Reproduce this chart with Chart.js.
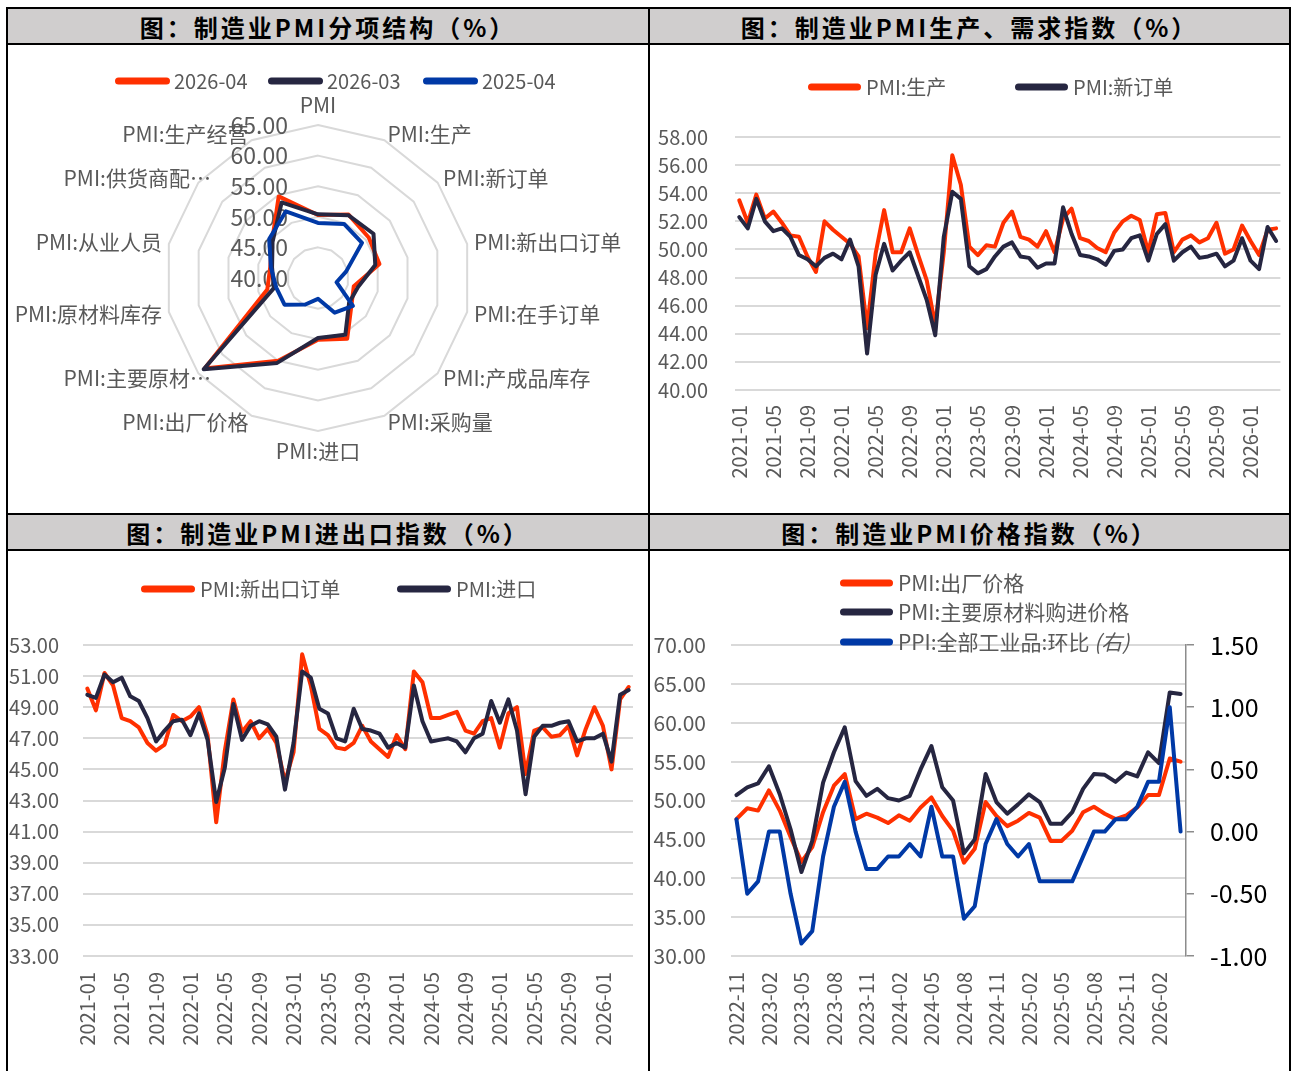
<!DOCTYPE html>
<html><head><meta charset="utf-8">
<script src="https://cdn.jsdelivr.net/npm/chart.js@4.4.1/dist/chart.umd.min.js"></script>
<style>
html,body{margin:0;padding:0;background:#fff;}
body{width:1293px;height:1071px;overflow:hidden;position:relative;font-family:'Noto Sans CJK SC','Noto Sans',sans-serif;}
.hdr{position:absolute;background:#D0CECE;display:flex;align-items:center;justify-content:center;font-weight:700;font-size:24px;letter-spacing:3px;color:#000;white-space:nowrap;}
.ln{position:absolute;background:#000;}
canvas{position:absolute;}
</style></head><body>
<div class="hdr" style="left:8px;top:9px;width:640px;height:34px;">图：制造业PMI分项结构（%）</div>
<div class="hdr" style="left:650px;top:9px;width:639px;height:34px;">图：制造业PMI生产、需求指数（%）</div>
<div class="hdr" style="left:8px;top:515px;width:640px;height:34px;">图：制造业PMI进出口指数（%）</div>
<div class="hdr" style="left:650px;top:515px;width:639px;height:34px;">图：制造业PMI价格指数（%）</div>
<canvas id="c1" width="642" height="468" style="left:7px;top:45px;width:642px;height:468px;"></canvas>
<canvas id="c2" width="640" height="468" style="left:650px;top:45px;width:640px;height:468px;"></canvas>
<canvas id="c3" width="649" height="520" style="left:0px;top:551px;width:649px;height:520px;"></canvas>
<canvas id="c4" width="640" height="520" style="left:650px;top:551px;width:640px;height:520px;"></canvas>
<div class="ln" style="left:6px;top:7px;width:1285px;height:2px;"></div>
<div class="ln" style="left:6px;top:43px;width:1285px;height:2px;"></div>
<div class="ln" style="left:6px;top:513px;width:1285px;height:2px;"></div>
<div class="ln" style="left:6px;top:549px;width:1285px;height:2px;"></div>
<div class="ln" style="left:6px;top:7px;width:2px;height:1064px;"></div>
<div class="ln" style="left:648px;top:7px;width:2px;height:1064px;"></div>
<div class="ln" style="left:1289px;top:7px;width:2px;height:1064px;"></div>
<script>
// ---------- DATA ----------
const radarLabels = ['PMI','PMI:生产','PMI:新订单','PMI:新出口订单','PMI:在手订单','PMI:产成品库存','PMI:采购量','PMI:进口','PMI:出厂价格','PMI:主要原材…','PMI:原材料库存','PMI:从业人员','PMI:供货商配…','PMI:生产经营'];
const radarSeriesNames = ['2026-04','2026-03','2025-04'];
const radar202604 = [50.3, 51.5, 50.6, 50.3, 46.0, 47.0, 51.0, 50.1, 55.0, 63.7, 48.5, 48.0, 49.6, 54.8];
const radar202603 = [50.4, 51.4, 51.6, 49.6, 46.7, 46.5, 50.3, 49.8, 55.4, 63.9, 47.4, 47.7, 49.5, 53.7];
const radar202504 = [49.0, 49.8, 49.2, 44.7, 43.1, 47.3, 46.3, 43.4, 44.8, 47.0, 47.0, 47.9, 50.2, 52.1];
const radarTicks = [40, 45, 50, 55, 60, 65];

const months64 = ['2021-01','2021-02','2021-03','2021-04','2021-05','2021-06','2021-07','2021-08','2021-09','2021-10','2021-11','2021-12',
'2022-01','2022-02','2022-03','2022-04','2022-05','2022-06','2022-07','2022-08','2022-09','2022-10','2022-11','2022-12',
'2023-01','2023-02','2023-03','2023-04','2023-05','2023-06','2023-07','2023-08','2023-09','2023-10','2023-11','2023-12',
'2024-01','2024-02','2024-03','2024-04','2024-05','2024-06','2024-07','2024-08','2024-09','2024-10','2024-11','2024-12',
'2025-01','2025-02','2025-03','2025-04','2025-05','2025-06','2025-07','2025-08','2025-09','2025-10','2025-11','2025-12',
'2026-01','2026-02','2026-03','2026-04'];
const production = [53.5,51.9,53.9,52.2,52.7,51.9,51.0,50.9,49.5,48.4,52.0,51.4,
50.9,50.4,49.5,44.4,49.7,52.8,49.8,49.8,51.5,49.6,47.8,44.6,
49.8,56.7,54.6,50.2,49.6,50.3,50.2,51.9,52.7,50.9,50.7,50.2,
51.3,49.8,52.2,52.9,50.8,50.6,50.1,49.8,51.2,52.0,52.4,52.1,
49.8,52.5,52.6,49.8,50.7,51.0,50.5,50.8,51.9,49.7,50.0,51.7,
50.6,49.6,51.4,51.5];
const newOrders = [52.3,51.5,53.6,52.0,51.3,51.5,50.9,49.6,49.3,48.8,49.4,49.7,
49.3,50.7,48.8,42.6,48.2,50.4,48.5,49.2,49.8,48.1,46.4,43.9,
50.9,54.1,53.6,48.8,48.3,48.6,49.5,50.2,50.5,49.5,49.4,48.7,
49.0,49.0,53.0,51.1,49.6,49.5,49.3,48.9,49.9,50.0,50.8,51.0,
49.2,51.1,51.8,49.2,49.8,50.2,49.4,49.5,49.7,48.8,49.2,50.8,
49.2,48.6,51.6,50.6];
const newExportOrders = [50.2,48.8,51.2,50.4,48.3,48.1,47.7,46.7,46.2,46.6,48.5,48.1,
48.4,49.0,47.2,41.6,46.2,49.5,47.4,48.1,47.0,47.6,46.7,44.2,
46.1,52.4,50.4,47.6,47.2,46.4,46.3,46.7,47.8,46.8,46.3,45.8,
47.2,46.3,51.3,50.6,48.3,48.3,48.5,48.7,47.5,47.3,48.1,48.3,
46.4,48.6,49.0,44.7,47.5,47.7,47.1,47.2,47.8,45.9,47.6,49.0,
47.8,45.0,49.5,50.3];
const imports = [49.8,49.6,51.1,50.6,50.9,49.7,49.4,48.3,46.8,47.5,48.1,48.2,
47.2,48.6,46.9,42.9,45.1,49.2,46.9,47.8,48.1,47.9,47.1,43.7,
46.7,51.3,50.9,48.9,48.6,47.0,46.8,48.9,47.6,47.5,47.3,46.4,
46.7,46.4,50.4,48.1,46.8,46.9,47.0,46.8,46.1,47.0,47.3,49.4,
48.0,49.5,47.5,43.4,47.1,47.8,47.8,48.0,48.1,46.8,47.0,47.0,
47.3,45.5,49.8,50.1];

const months42 = ['2022-11','2022-12','2023-01','2023-02','2023-03','2023-04','2023-05','2023-06','2023-07','2023-08','2023-09','2023-10','2023-11','2023-12',
'2024-01','2024-02','2024-03','2024-04','2024-05','2024-06','2024-07','2024-08','2024-09','2024-10','2024-11','2024-12',
'2025-01','2025-02','2025-03','2025-04','2025-05','2025-06','2025-07','2025-08','2025-09','2025-10','2025-11','2025-12',
'2026-01','2026-02','2026-03','2026-04'];
const outputPrice = [47.6,49.0,48.7,51.3,48.7,45.3,42.1,44.0,48.5,51.9,53.4,47.6,48.3,47.8,
47.1,48.1,47.4,49.1,50.4,48.0,46.1,42.0,43.8,49.8,48.0,46.7,
47.4,48.4,47.8,44.8,44.8,46.1,48.5,49.2,48.3,47.6,48.1,49.1,
50.7,50.7,55.4,55.0];
const inputPrice = [50.7,51.7,52.2,54.4,50.8,46.3,40.8,44.8,52.3,56.2,59.4,52.5,50.6,51.5,
50.3,50.0,50.6,54.0,57.0,51.7,50.0,43.2,45.0,53.4,49.8,48.3,
49.5,50.8,49.8,47.0,47.0,48.5,51.5,53.4,53.3,52.4,53.6,53.1,
56.2,54.8,63.9,63.7];
const ppiMoM = [0.1,-0.5,-0.4,0.0,0.0,-0.5,-0.9,-0.8,-0.2,0.2,0.4,0.0,-0.3,-0.3,
-0.2,-0.2,-0.1,-0.2,0.2,-0.2,-0.2,-0.7,-0.6,-0.1,0.1,-0.1,
-0.2,-0.1,-0.4,-0.4,-0.4,-0.4,-0.2,0.0,0.0,0.1,0.1,0.2,
0.4,0.4,1.0,0.0];

// ---------- STYLE ----------
const FONT = "'Noto Sans CJK SC','Noto Sans',sans-serif";
const RED = '#FF3000', DARK = '#262641', BLUE = '#0039A6', GRAYTXT = '#595959', GRID = '#D9D9D9';
Chart.defaults.font.family = FONT;
Chart.defaults.color = GRAYTXT;

function legendPlugin(pos, cfg) {
  return {
    id: 'customLegend',
    afterDraw(chart) {
      const ctx = chart.ctx;
      chart.data.datasets.forEach((ds, i) => {
        const p = pos[i]; if (!p) return;
        ctx.save();
        ctx.strokeStyle = ds.borderColor; ctx.lineWidth = cfg.lw; ctx.lineCap = 'round';
        ctx.beginPath(); ctx.moveTo(p[0] + cfg.lw / 2, p[1]); ctx.lineTo(p[0] + cfg.len - cfg.lw / 2, p[1]); ctx.stroke();
        ctx.fillStyle = GRAYTXT; ctx.font = cfg.size + 'px ' + FONT; ctx.textBaseline = 'middle'; ctx.textAlign = 'left';
        const tx = p[0] + cfg.len + cfg.gap;
        ctx.fillText(ds.label, tx, p[1]);
        if (ds.labelSuffix) {
          const w = ctx.measureText(ds.label).width;
          ctx.font = 'italic ' + cfg.size + 'px ' + FONT;
          ctx.fillText(ds.labelSuffix, tx + w, p[1]);
        }
        ctx.restore();
      });
    }
  };
}

function lineDS(label, data, color, order, axis) {
  return {label, data, borderColor: color, backgroundColor: color, borderWidth: 4, pointRadius: 0, tension: 0,
    borderJoinStyle: 'round', borderCapStyle: 'round', fill: false, order, yAxisID: axis || 'y'};
}

function xScale(every, pad) {
  return {
    offset: true,
    grid: {display: false, drawTicks: false},
    border: {display: false},
    ticks: {autoSkip: false, minRotation: 90, maxRotation: 90, padding: pad, color: GRAYTXT, font: {size: 20},
      callback: function (v, i) { return i % every === 0 ? this.getLabelForValue(v) : null; }},
    afterFit: s => { s.height = 100; }
  };
}
function yScale(min, max, step, pad, width, fontSize) {
  return {
    min, max,
    grid: {color: GRID, lineWidth: 2, drawTicks: false},
    border: {display: false},
    ticks: {autoSkip: false, stepSize: step, padding: pad, color: GRAYTXT, font: {size: fontSize || 21}, callback: v => v.toFixed(2)},
    afterFit: s => { s.width = width; }
  };
}
const common = {responsive: false, animation: false, events: [],
  plugins: {legend: {display: false}, tooltip: {enabled: false}}};

// ---------- Chart 1: radar ----------
const radarText = {
  id: 'radarText',
  beforeDatasetsDraw(chart) {
    const s = chart.scales.r, ctx = chart.ctx;
    ctx.save();
    ctx.fillStyle = GRAYTXT;
    ctx.font = '23px ' + FONT; ctx.textAlign = 'right'; ctx.textBaseline = 'middle';
    radarTicks.forEach(t => {
      const d = s.getDistanceFromCenterForValue(t);
      ctx.fillText(t.toFixed(2), s.xCenter - 30, s.yCenter - d);
    });
    ctx.font = '21px ' + FONT;
    radarLabels.forEach((lab, i) => {
      const ang = s.getIndexAngle(i);
      const sn = Math.sin(ang);
      if (Math.abs(sn) < 0.01) {
        const p = s.getPointPosition(i, s.drawingArea + 20);
        ctx.textAlign = 'center'; ctx.fillText(lab, p.x, p.y);
      } else {
        const p = s.getPointPosition(i, s.drawingArea + 7);
        const shift = lab.endsWith('…') ? 18 : 0;
        ctx.textAlign = sn > 0 ? 'left' : 'right'; ctx.fillText(lab, p.x + shift, p.y);
      }
    });
    ctx.restore();
  }
};
new Chart(document.getElementById('c1'), {
  type: 'radar',
  data: {labels: radarLabels, datasets: [
    {label: radarSeriesNames[0], data: radar202604, borderColor: RED, backgroundColor: RED, order: 2},
    {label: radarSeriesNames[1], data: radar202603, borderColor: DARK, backgroundColor: DARK, order: 1},
    {label: radarSeriesNames[2], data: radar202504, borderColor: BLUE, backgroundColor: BLUE, order: 0}
  ].map(d => Object.assign(d, {borderWidth: 4, pointRadius: 0, fill: false, tension: 0, borderJoinStyle: 'round'}))},
  options: Object.assign({}, common, {
    layout: {padding: {left: 158, right: 178, top: 80, bottom: 82}},
    scales: {r: {min: 40, max: 65,
      ticks: {display: false, stepSize: 5},
      pointLabels: {display: false},
      grid: {color: GRID, lineWidth: 2},
      angleLines: {display: false}}}
  }),
  plugins: [radarText, legendPlugin([[108, 36], [261, 36], [416, 36]], {lw: 7, len: 55, gap: 4, size: 20})]
});

// ---------- Chart 2 ----------
new Chart(document.getElementById('c2'), {
  type: 'line',
  data: {labels: months64, datasets: [
    lineDS('PMI:生产', production, RED, 1),
    lineDS('PMI:新订单', newOrders, DARK, 0)
  ]},
  options: Object.assign({}, common, {
    layout: {padding: {left: 0, right: 8, top: 92, bottom: 23}},
    scales: {x: xScale(4, 15), y: yScale(40, 58, 2, 27, 85, 20)}
  }),
  plugins: [legendPlugin([[158, 42], [365, 42]], {lw: 7, len: 53, gap: 5, size: 20})]
});

// ---------- Chart 3 ----------
new Chart(document.getElementById('c3'), {
  type: 'line',
  data: {labels: months64, datasets: [
    lineDS('PMI:新出口订单', newExportOrders, RED, 1),
    lineDS('PMI:进口', imports, DARK, 0)
  ]},
  options: Object.assign({}, common, {
    layout: {padding: {left: 0, right: 16, top: 94, bottom: 15}},
    scales: {x: xScale(4, 16), y: yScale(33, 53, 2, 24, 83, 20)}
  }),
  plugins: [legendPlugin([[141, 38], [397, 38]], {lw: 7, len: 54, gap: 5, size: 20})]
});

// ---------- Chart 4 ----------
const ppiDS = lineDS('PPI:全部工业品:环比', ppiMoM, BLUE, 0, 'y1');
ppiDS.labelSuffix = ' (右)';
new Chart(document.getElementById('c4'), {
  type: 'line',
  data: {labels: months42, datasets: [
    lineDS('PMI:出厂价格', outputPrice, RED, 2),
    lineDS('PMI:主要原材料购进价格', inputPrice, DARK, 1),
    ppiDS
  ]},
  options: Object.assign({}, common, {
    layout: {padding: {left: 0, right: 0, top: 94, bottom: 15}},
    scales: {
      x: xScale(3, 16),
      y: yScale(30, 70, 5, 25, 81),
      y1: {position: 'right', min: -1, max: 1.5,
        grid: {drawOnChartArea: false, drawTicks: true, tickLength: 8, color: '#8C8C8C', lineWidth: 1.5},
        border: {display: true, color: '#8C8C8C', width: 1.5},
        ticks: {autoSkip: false, stepSize: 0.5, padding: 16, color: '#000', font: {size: 25}, callback: v => v.toFixed(2)},
        afterFit: s => { s.width = 104; }}
    }
  }),
  plugins: [legendPlugin([[190, 32], [190, 61], [190, 91]], {lw: 7, len: 53, gap: 5, size: 21})]
});
</script>
</body></html>
